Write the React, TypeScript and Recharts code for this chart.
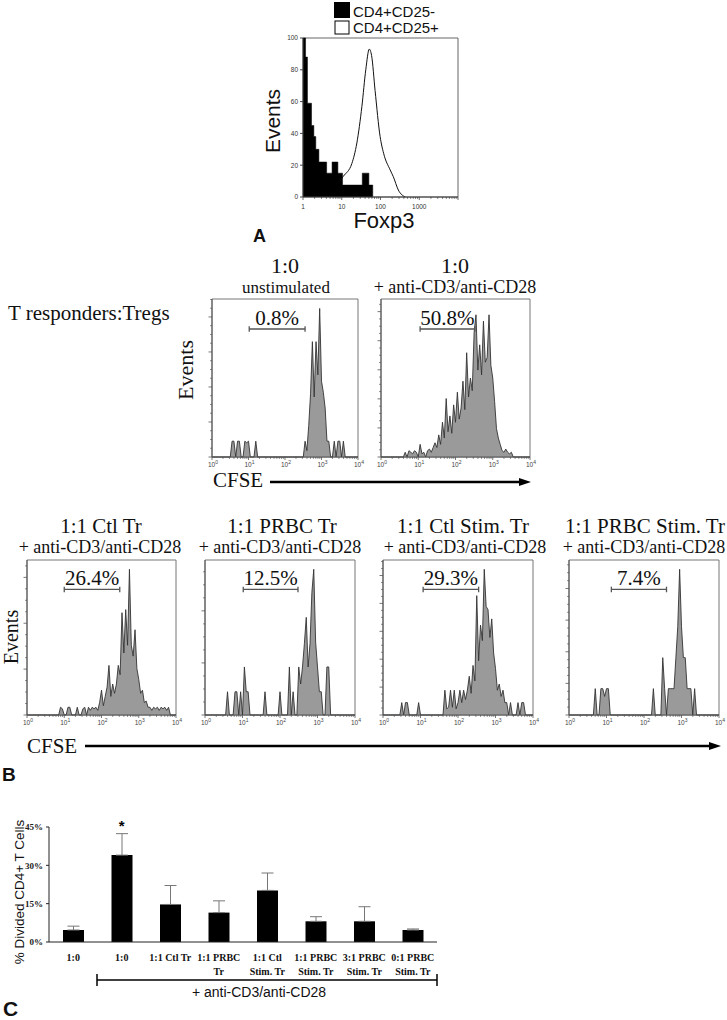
import React from "react";
import {
  ComposedChart,
  Area,
  Line,
  Bar,
  XAxis,
  YAxis,
  ReferenceArea,
  ReferenceLine,
  ReferenceDot,
  ErrorBar,
} from "recharts";

const SANS = "'Liberation Sans', Arial, Helvetica, sans-serif";
const SERIF = "'Liberation Serif', 'Times New Roman', Times, serif";

// Panel A: Foxp3 histograms, x in log10(Foxp3)
const foxNegEdges = [0, 0.066, 0.115, 0.22, 0.28, 0.33, 0.41, 0.61, 0.75, 0.9, 1.02, 1.53, 1.7, 1.8];
const foxNegEvents = [100, 88, 59, 45, 38, 30, 22, 15, 22, 15, 7.5, 15, 7.5, 0];
const foxPosLog = [0.95, 1.04, 1.26, 1.39, 1.52, 1.62, 1.71, 1.77, 1.86, 1.99, 2.08, 2.25, 2.33, 2.46, 2.64];
const foxPosEvents = [10, 13, 21, 34, 57, 80, 93, 89, 67, 38, 27.5, 17, 12.8, 4.4, 0];
const foxTickLabels = ["1", "10", "100", "1000"];
const foxEventTicks = [0, 20, 40, 60, 80, 100];
const foxLegend = ["CD4+CD25-", "CD4+CD25+"];

// Panel B: CFSE histograms, 20 channels per decade, 10^0 .. 10^4
const CH_PER_DECADE = 20;
const cfseDecades = [0, 1, 2, 3, 4];

const cfseUnstim = [
  0, 0, 0, 0, 0, 0, 0, 0, 0, 0,
  0, 10, 10, 0, 10, 10, 0, 0, 10, 9,
  10, 0, 0, 0, 10, 0, 0, 0, 0, 0,
  0, 0, 0, 0, 0, 0, 0, 0, 0, 0,
  0, 0, 0, 0, 0, 0, 0, 0, 0, 0,
  0, 10, 4, 20, 40, 73, 38, 73, 52, 94,
  48, 41, 31, 10, 10, 0, 0, 10, 0, 10,
  10, 0, 10, 0, 0, 0, 0, 0, 0, 0,
  0,
];
const cfseStim = [
  0, 0, 0, 0, 0, 0, 0, 0, 0, 0,
  0, 0, 0, 3, 0, 4, 3, 2, 4, 3,
  0, 8, 2, 3, 0, 4, 5, 3, 6, 9,
  6, 14, 8, 22, 12, 37, 16, 26, 15, 33,
  22, 41, 24, 31, 48, 30, 66, 38, 50, 42,
  79, 90, 55, 71, 52, 86, 60, 63, 90, 58,
  50, 35, 18, 12, 8, 4, 3, 5, 3, 2,
  3, 0, 0, 0, 0, 0, 0, 0, 0, 0,
  0,
];
const cfseCtlTr = [
  0, 0, 0, 0, 0, 0, 0, 0, 0, 0,
  0, 0, 0, 0, 0, 0, 0, 0, 5, 4,
  0, 0, 5, 5, 0, 0, 0, 5, 0, 0,
  4, 5, 0, 5, 3, 5, 4, 5, 3, 8,
  16, 6, 12, 18, 32, 12, 20, 14, 20, 32,
  26, 66, 40, 68, 45, 94, 45, 38, 55, 30,
  23, 14, 16, 8, 9, 5, 5, 3, 5, 4,
  5, 3, 5, 4, 5, 3, 5, 0, 0, 0,
  0,
];
const cfsePrbcTr = [
  0, 0, 0, 0, 0, 0, 0, 0, 0, 0,
  0, 0, 15, 0, 0, 0, 15, 15, 0, 15,
  0, 31, 15, 15, 0, 0, 0, 0, 0, 0,
  0, 0, 15, 0, 0, 0, 0, 0, 0, 0,
  15, 0, 0, 0, 0, 31, 0, 15, 0, 0,
  31, 20, 31, 46, 63, 31, 46, 79, 94, 47,
  31, 15, 15, 0, 0, 31, 31, 0, 0, 0,
  0, 0, 0, 0, 0, 0, 0, 0, 0, 0,
  0,
];
const cfseCtlStimTr = [
  0, 0, 0, 0, 0, 0, 0, 0, 0, 0,
  8, 0, 8, 8, 0, 0, 0, 0, 0, 8,
  0, 0, 0, 0, 0, 0, 0, 0, 0, 0,
  0, 0, 0, 16, 4, 5, 16, 5, 16, 4,
  8, 16, 8, 16, 10, 16, 25, 14, 32, 22,
  77, 35, 58, 48, 94, 70, 68, 50, 62, 40,
  30, 16, 20, 12, 16, 8, 8, 0, 8, 0,
  0, 0, 8, 0, 8, 8, 0, 0, 0, 0,
  0,
];
const cfsePrbcStimTr = [
  0, 0, 0, 0, 0, 0, 0, 0, 0, 0,
  0, 0, 0, 0, 17, 0, 0, 17, 17, 12,
  17, 17, 0, 0, 0, 0, 0, 0, 0, 0,
  0, 0, 0, 0, 0, 0, 0, 0, 0, 0,
  0, 0, 0, 0, 0, 17, 0, 0, 0, 0,
  37, 17, 0, 17, 17, 17, 17, 37, 57, 94,
  57, 37, 37, 17, 17, 17, 0, 17, 0, 0,
  0, 0, 0, 0, 0, 0, 0, 0, 0, 0,
  0,
];

const histCounts = [cfseUnstim, cfseStim, cfseCtlTr, cfsePrbcTr, cfseCtlStimTr, cfsePrbcStimTr];
const histPct = ["0.8%", "50.8%", "26.4%", "12.5%", "29.3%", "7.4%"];
const histGates = [[1.02, 2.55], [1.05, 2.52], [1.0, 2.49], [1.02, 2.48], [1.07, 2.55], [1.13, 2.6]];
const histTitles = ["1:0", "1:0", "1:1 Ctl Tr", "1:1 PRBC Tr", "1:1 Ctl Stim. Tr", "1:1 PRBC Stim. Tr"];
const histSubtitles = [
  "unstimulated",
  "+ anti-CD3/anti-CD28",
  "+ anti-CD3/anti-CD28",
  "+ anti-CD3/anti-CD28",
  "+ anti-CD3/anti-CD28",
  "+ anti-CD3/anti-CD28",
];
const GATE_Y = 81;

// Panel C: % divided CD4+ T cells
const groupTop = ["1:0", "1:0", "1:1 Ctl Tr", "1:1 PRBC", "1:1 Ctl", "1:1 PRBC", "3:1 PRBC", "0:1 PRBC"];
const groupBottom = ["", "", "", "Tr", "Stim. Tr", "Stim. Tr", "Stim. Tr", "Stim. Tr"];
const dividedPct = [4.7, 34, 14.7, 11.5, 20.2, 8.1, 8.1, 4.7];
const dividedErr = [1.5, 8.4, 7.4, 4.6, 6.8, 1.8, 5.7, 0.4];
const pctTicks = [0, 15, 30, 45];
const SIG_GROUP = 1;

// layout of the histogram boxes (page pixels)
const histLayout = [
  { left: 212, top: 299, width: 146, height: 158, titleX: 285, subX: 286, titleY: 273, subY: 293, titleSize: 22, subSize: 17, yStep: 5.54 },
  { left: 381, top: 299, width: 149, height: 158, titleX: 455, subX: 455, titleY: 273, subY: 293, titleSize: 22, subSize: 18, yStep: 4.6 },
  { left: 27, top: 560, width: 149, height: 155, titleX: 101, subX: 100, titleY: 533, subY: 553, titleSize: 21, subSize: 18, yStep: 7.4 },
  { left: 205, top: 560, width: 150, height: 155, titleX: 282, subX: 280, titleY: 533, subY: 553, titleSize: 21, subSize: 18, yStep: 8.4 },
  { left: 383, top: 560, width: 150, height: 155, titleX: 463, subX: 465, titleY: 533, subY: 553, titleSize: 21, subSize: 18, yStep: 4.5 },
  { left: 569, top: 560, width: 150, height: 155, titleX: 645, subX: 644, titleY: 533, subY: 553, titleSize: 21, subSize: 18, yStep: 5.1 },
];

function logTicks(decades: number[]) {
  const out: number[] = [];
  decades.forEach((d, i) => {
    out.push(d);
    if (i < decades.length - 1) {
      for (let k = 2; k <= 9; k++) out.push(d + Math.log10(k));
    }
  });
  return out;
}
const cfseTicks = logTicks(cfseDecades);
const foxTicks = logTicks(cfseDecades);

const isMajor = (v: number) => Math.abs(v - Math.round(v)) < 1e-6;

function CfseTick(props: any) {
  const { x, y, payload } = props;
  const v = payload.value;
  const major = isMajor(v);
  return (
    <g>
      <line x1={x} x2={x} y1={y} y2={y + (major ? 3 : 1.8)} stroke="#555" strokeWidth={0.8} />
      {major && (
        <text x={x + 1} y={y + 10} textAnchor="middle" fontSize={6.5} fontFamily={SANS} fill="#444">
          10
          <tspan dy={-3} fontSize={5}>
            {Math.round(v)}
          </tspan>
        </text>
      )}
    </g>
  );
}

function FoxTick(props: any) {
  const { x, y, payload } = props;
  const v = payload.value;
  const major = isMajor(v);
  const label = major ? foxTickLabels[Math.round(v)] : undefined;
  return (
    <g>
      <line x1={x} x2={x} y1={y} y2={y + (major ? 3 : 1.8)} stroke="#444" strokeWidth={0.8} />
      {label && (
        <text x={x} y={y + 12} textAnchor="middle" fontSize={6.5} fontFamily={SANS} fill="#333">
          {label}
        </text>
      )}
    </g>
  );
}

function EventTick(props: any) {
  const { x, y, index } = props;
  const len = index % 4 === 0 ? 3.5 : 1.8;
  return <line x1={x - len} x2={x} y1={y} y2={y} stroke="#555" strokeWidth={0.8} />;
}

function BlankTick() {
  return <g />;
}

function GroupTick(props: any) {
  const { x, y, index } = props;
  return (
    <text x={x} y={y + 19} textAnchor="middle" fontSize={10} fontWeight={700} fontFamily={SERIF} fill="#111">
      <tspan x={x}>{groupTop[index]}</tspan>
      {groupBottom[index] ? (
        <tspan x={x} dy={14}>
          {groupBottom[index]}
        </tspan>
      ) : null}
    </text>
  );
}

function CfseHistogram({ idx }: { idx: number }) {
  const box = histLayout[idx];
  const gate = histGates[idx];
  const padL = 8, padR = 10, padT = 4, padB = 16;
  const rows = histCounts[idx].map((c, i) => ({ x: i / CH_PER_DECADE, count: c }));
  const yTicks: number[] = [];
  for (let v = 0; v <= 100.01; v += box.yStep) yTicks.push(Number(v.toFixed(2)));

  return (
    <div style={{ position: "absolute", left: box.left - padL, top: box.top - padT }}>
      <ComposedChart
        width={box.width + padL + padR}
        height={box.height + padT + padB}
        data={rows}
        margin={{ top: padT, right: padR, bottom: 0, left: 0 }}
      >
        <XAxis
          type="number"
          dataKey="x"
          domain={[0, 4]}
          ticks={cfseTicks}
          interval={0}
          tickSize={0}
          tickMargin={0}
          tickLine={false}
          height={padB}
          tick={<CfseTick />}
          axisLine={{ stroke: "#555" }}
          allowDataOverflow
        />
        <YAxis
          type="number"
          domain={[0, 100]}
          ticks={yTicks}
          interval={0}
          width={padL}
          tickSize={0}
          tickMargin={0}
          tickLine={false}
          tick={<EventTick />}
          axisLine={{ stroke: "#555" }}
        />
        <ReferenceArea x1={0} x2={4} y1={0} y2={100} fill="none" stroke="#777" strokeWidth={1} ifOverflow="visible" />
        <Area
          type="linear"
          dataKey="count"
          stroke="#333"
          strokeWidth={0.9}
          fill="#9a9a9a"
          fillOpacity={1}
          dot={false}
          activeDot={false}
          isAnimationActive={false}
        />
        <ReferenceLine
          segment={[{ x: gate[0], y: GATE_Y }, { x: gate[1], y: GATE_Y }]}
          stroke="#555"
          strokeWidth={1.3}
          label={{ value: histPct[idx], position: "top", offset: 4, fill: "#111", fontSize: 21, fontFamily: SERIF }}
        />
        <ReferenceLine segment={[{ x: gate[0], y: GATE_Y - 1.8 }, { x: gate[0], y: GATE_Y + 1.8 }]} stroke="#555" strokeWidth={1.3} />
        <ReferenceLine segment={[{ x: gate[1], y: GATE_Y - 1.8 }, { x: gate[1], y: GATE_Y + 1.8 }]} stroke="#555" strokeWidth={1.3} />
      </ComposedChart>
    </div>
  );
}

function FoxpChart() {
  const negRows = foxNegEdges.map((x, i) => ({ x, v: foxNegEvents[i] }));
  const posRows = foxPosLog.map((x, i) => ({ x, v: foxPosEvents[i] }));
  return (
    <div style={{ position: "absolute", left: 278, top: 33 }}>
      <ComposedChart width={185} height={184} margin={{ top: 5, right: 5, bottom: 0, left: 0 }}>
        <XAxis
          type="number"
          dataKey="x"
          domain={[0, 4]}
          ticks={foxTicks}
          interval={0}
          tickSize={0}
          tickMargin={0}
          tickLine={false}
          height={20}
          tick={<FoxTick />}
          axisLine={{ stroke: "#444" }}
          allowDataOverflow
        />
        <YAxis
          type="number"
          domain={[0, 100]}
          ticks={foxEventTicks}
          interval={0}
          width={25}
          tickSize={3}
          tickMargin={2}
          tick={{ fontSize: 6.5, fill: "#333", fontFamily: SANS }}
          axisLine={{ stroke: "#444" }}
          tickLine={{ stroke: "#444" }}
        />
        <ReferenceArea x1={0} x2={4} y1={0} y2={100} fill="none" stroke="#666" strokeWidth={1} ifOverflow="visible" />
        <Line
          data={posRows}
          dataKey="v"
          type="monotone"
          stroke="#111"
          strokeWidth={1}
          dot={false}
          activeDot={false}
          isAnimationActive={false}
        />
        <Area
          data={negRows}
          dataKey="v"
          type="stepAfter"
          stroke="#000"
          strokeWidth={0.5}
          fill="#000"
          fillOpacity={1}
          dot={false}
          activeDot={false}
          isAnimationActive={false}
        />
      </ComposedChart>
    </div>
  );
}

function DividedChart() {
  const rows = dividedPct.map((p, i) => ({ id: `g${i}`, pct: p, err: [0, dividedErr[i]] }));
  const groupEdges = dividedPct.map((_, i) => i + 1);
  return (
    <div style={{ position: "absolute", left: 0, top: 817 }}>
      <ComposedChart width={447} height={170} data={rows} margin={{ top: 10, right: 10, bottom: 0, left: 0 }}>
        <XAxis
          xAxisId="edge"
          type="number"
          domain={[0, dividedPct.length]}
          ticks={groupEdges}
          interval={0}
          height={0}
          axisLine={false}
          tickSize={4}
          tickLine={{ stroke: "#222" }}
          tick={<BlankTick />}
          allowDataOverflow
        />
        <XAxis
          xAxisId="cat"
          dataKey="id"
          type="category"
          height={45}
          interval={0}
          tickSize={0}
          tickMargin={0}
          tickLine={false}
          tick={<GroupTick />}
          axisLine={{ stroke: "#222" }}
        />
        <YAxis
          type="number"
          domain={[0, 45]}
          ticks={pctTicks}
          interval={0}
          width={49}
          tickSize={3}
          tickMargin={3}
          tickFormatter={(v: number) => `${v}%`}
          tick={{ fontSize: 9, fontWeight: 700, fontFamily: SERIF, fill: "#222" }}
          axisLine={{ stroke: "#222" }}
          tickLine={{ stroke: "#222" }}
        />
        <Bar xAxisId="cat" dataKey="pct" fill="#000" barSize={21} isAnimationActive={false}>
          <ErrorBar dataKey="err" width={6} stroke="#777" strokeWidth={1} direction="y" />
        </Bar>
        <ReferenceDot
          xAxisId="cat"
          x={`g${SIG_GROUP}`}
          y={dividedPct[SIG_GROUP] + dividedErr[SIG_GROUP]}
          r={0}
          stroke="none"
          label={{ value: "*", position: "top", offset: 3, fontSize: 15, fontWeight: 700, fill: "#000", fontFamily: SANS }}
        />
      </ComposedChart>
    </div>
  );
}

function Overlay() {
  return (
    <svg width={727} height={1020} style={{ position: "absolute", left: 0, top: 0, pointerEvents: "none" }}>
      {/* Panel A */}
      <rect x={334} y={2} width={16} height={16} fill="#000" />
      <text x={353} y={17} fontSize={15} fontFamily={SANS} fill="#111">{foxLegend[0]}</text>
      <rect x={335} y={21} width={14} height={13} fill="#fff" stroke="#000" strokeWidth={1} />
      <text x={353} y={33} fontSize={15} fontFamily={SANS} fill="#111">{foxLegend[1]}</text>
      <text transform="translate(280,121) rotate(-90)" textAnchor="middle" fontSize={21} fontFamily={SANS} fill="#111">Events</text>
      <text x={384} y={228} textAnchor="middle" fontSize={22} fontFamily={SANS} fill="#111">Foxp3</text>
      <text x={253} y={242} fontSize={18} fontWeight={700} fontFamily={SANS} fill="#111">A</text>

      {/* Panel B */}
      <text x={8} y={320} fontSize={21} fontFamily={SERIF} fill="#111">T responders:Tregs</text>
      {histLayout.map((b, i) => (
        <g key={i}>
          <text x={b.titleX} y={b.titleY} textAnchor="middle" fontSize={b.titleSize} fontFamily={SERIF} fill="#111">{histTitles[i]}</text>
          <text x={b.subX} y={b.subY} textAnchor="middle" fontSize={b.subSize} fontFamily={SERIF} fill="#111">{histSubtitles[i]}</text>
        </g>
      ))}
      <text transform="translate(193,370) rotate(-90)" textAnchor="middle" fontSize={22} fontFamily={SERIF} fill="#111">Events</text>
      <text x={213} y={487} fontSize={21} fontFamily={SERIF} fill="#111">CFSE</text>
      <line x1={270} y1={482} x2={521} y2={482} stroke="#000" strokeWidth={2.5} />
      <polygon points="519,478 531,482 519,486" fill="#000" />

      <text transform="translate(18,637) rotate(-90)" textAnchor="middle" fontSize={20} fontFamily={SERIF} fill="#111">Events</text>
      <text x={27} y={753} fontSize={21} fontFamily={SERIF} fill="#111">CFSE</text>
      <line x1={85} y1={746} x2={711} y2={746} stroke="#000" strokeWidth={2.5} />
      <polygon points="709,742 721,746 709,750" fill="#000" />
      <text x={2} y={781} fontSize={19} fontWeight={700} fontFamily={SANS} fill="#111">B</text>

      {/* Panel C */}
      <text transform="translate(24,892) rotate(-90)" textAnchor="middle" fontSize={13.5} fontFamily={SANS} fill="#111">% Divided CD4+ T Cells</text>
      <line x1={97} y1={980} x2={437} y2={980} stroke="#000" strokeWidth={1.5} />
      <line x1={97} y1={974} x2={97} y2={986} stroke="#000" strokeWidth={1.5} />
      <line x1={437} y1={974} x2={437} y2={986} stroke="#000" strokeWidth={1.5} />
      <text x={259} y={997} textAnchor="middle" fontSize={14} fontFamily={SANS} fill="#111">+ anti-CD3/anti-CD28</text>
      <text x={3} y={1016} fontSize={21} fontWeight={700} fontFamily={SANS} fill="#111">C</text>
    </svg>
  );
}

export default function App() {
  return (
    <div style={{ position: "absolute", left: 0, top: 0, width: 727, height: 1020, overflow: "hidden", background: "#fff" }}>
      <FoxpChart />
      {histLayout.map((_, i) => (
        <CfseHistogram key={i} idx={i} />
      ))}
      <DividedChart />
      <Overlay />
    </div>
  );
}
